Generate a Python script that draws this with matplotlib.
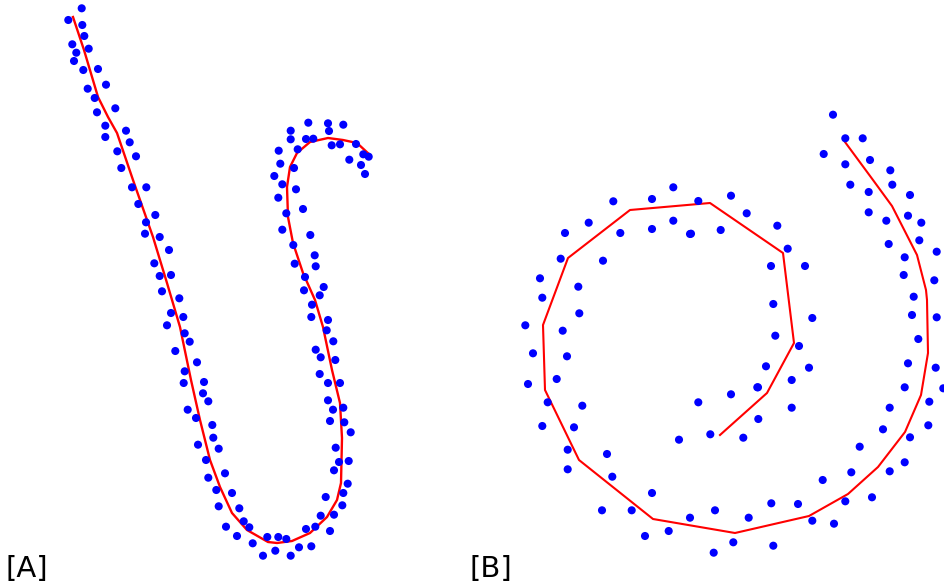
import numpy as np
import matplotlib
matplotlib.use('Agg')
import matplotlib.pyplot as plt

# panel A: noisy samples along an "S"-like stroke and the fitted curve
a_x = [81.7, 68.3, 82.3, 84.3, 72.3, 76.3, 88.7, 74, 83.3, 98, 106, 87.7, 94.7, 115.3, 97, 105.3,
       105.3, 126, 129.7, 117.3, 136, 121.3, 132, 146.3,
       138.3, 155.3, 146, 145, 159.7, 169, 154.3, 159.7, 171, 162, 179.3, 171, 183.3, 167, 184.7,
       189.7, 175.3, 197, 184.7,
       204, 183.7, 203, 208.3, 187.7, 196, 212.3, 213.3, 198, 218.7, 206, 225, 208.3, 216.3, 232,
       218.7, 239.3, 243.7, 226, 249.3, 237, 252.7, 267.3, 278.3, 286.3, 263, 275.3, 290.7, 299,
       311.3, 306, 315.3, 320.7, 330, 334, 325.7, 342.3, 343.3, 347.7, 334, 339, 348.7, 335.7,
       350.7, 344.3, 330, 333, 343.3, 328, 328, 340, 319.7,
       308.3, 328, 343.3, 290.7, 329, 290.7, 306, 313.3, 331.7, 340, 356, 297.7, 278.7, 349.3,
       363.3, 368.7, 361, 365, 280.3, 294, 274.3, 282.3, 296, 278.3, 303, 286.3, 282.3, 310.3,
       293.3, 314.7, 294.7, 315.7, 305, 323.7, 304, 319.7, 312, 328, 311.3, 326.7, 333.3, 315.7,
       320.7, 335.3]
a_y = [8.3, 20, 25, 36, 44.3, 52.7, 48.7, 61, 70, 69, 84.7, 88.7, 98, 108.3, 112.3, 125.7,
       137, 130.7, 142.3, 151.3, 156.3, 168, 187.3, 187.3,
       204, 215, 222.3, 233.7, 237, 250, 263.3, 276, 275, 291.3, 298.3, 313, 317, 325.3, 333.3,
       341.7, 351, 362.3, 371.3,
       382, 383, 393.3, 401.3, 409.7, 418, 425, 437.7, 444.7, 448.7, 460, 473.3, 477.7, 490, 493,
       506.3, 508.3, 521.3, 526.7, 527.3, 536, 543.3, 537, 537, 539, 555.7, 550.7, 555.7, 547.3,
       546.3, 529, 526.7, 515.7, 531, 514.7, 497, 505.3, 493, 483.7, 470.3, 462, 461, 447.7,
       432.3, 422.3, 421, 409.7, 407.7, 400.3, 383, 383, 374,
       122.7, 123.3, 124.7, 130.7, 131, 139.3, 139, 138.7, 145.3, 144.3, 144, 149.3, 150.7, 159.7,
       154.3, 156.7, 165, 174, 163.7, 168, 176, 184.3, 189.3, 197.7, 209, 213.3, 229.7, 235,
       245, 255.3, 263.7, 266.3, 277, 287, 290.3, 295.3, 304.7, 320, 317, 330.3, 341.3, 349.7,
       357.3, 360]
a_line_x = [73, 84, 98, 108, 117, 133, 153, 167, 180, 191, 200, 210, 220, 232, 247, 268, 277,
            292, 310, 327, 337, 341, 342, 340, 332, 323, 315, 303, 293, 288, 287, 290, 297, 310,
            328, 343, 357, 370]
a_line_y = [17, 50, 97, 117, 133, 180, 237, 283, 327, 380, 420, 460, 487, 513, 530, 542, 543,
            541, 533, 517, 500, 483, 438, 403, 370, 327, 300, 273, 243, 217, 187, 167, 153, 142,
            138, 140, 143, 155]

# panel B: noisy samples along a spiral and the fitted polyline
b_x = [673.3, 613.3, 652, 698.3, 588.7, 673.3, 565, 620.3, 652, 690, 560.7, 603, 540, 578.3,
       542.3, 579.3, 525.3, 562.7, 533, 567, 556.7,
       528, 547.7, 582.3, 542.3, 574, 567.7, 567.7, 607, 612.3, 652, 602, 631.7, 645, 668.7, 690,
       715, 748.7, 733.3, 713.7, 698.3, 731, 757.3, 679, 710.3, 743.3, 758.3,
       850.3, 868.7, 868.7, 886.3, 888.7, 731, 746.7, 720.7, 691, 777.3, 787.7, 771, 805, 773.3,
       812.3, 775.3, 799, 766, 809, 791.7, 758, 791.7,
       833, 845.3, 862.7, 823.7, 845.3, 870, 890.3, 892.3, 910, 908, 921.3, 919.3, 936.7, 904.7,
       903.7, 934.3, 913.7,
       912, 936.7, 918.3, 908, 935.7, 943.3, 904.7, 929.3, 889.7, 928.3, 883, 910, 859.7, 904.7,
       889.7, 851.3, 822.7, 872, 845.3, 771.3, 798, 812.3, 834, 773.3]
b_y = [187.3, 201.3, 199, 201, 222.7, 220.7, 233, 233, 229, 234, 258.7, 260.7, 278.3, 286.7,
       297.7, 313.3, 325.3, 330.7, 353.3, 356.3, 379,
       384, 402.3, 405.7, 426, 427.3, 449.7, 469.3, 454, 476.7, 493, 510.3, 510.3, 536, 531, 517.7,
       510.3, 517.7, 542.3, 552.7, 402.3, 394.3, 387.3, 439.7, 434.3, 437.7, 419,
       184.7, 192, 212.3, 220.7, 244, 195.7, 213.3, 230, 233.7, 225.7, 248.7, 266, 266, 304,
       318, 335.7, 346, 366.3, 367.7, 380, 387.3, 407.7,
       114.7, 138.3, 138.3, 154, 164.3, 160, 170.3, 184.7, 195, 215.7, 222.7, 240.3, 251.7, 257.3,
       275, 280.3, 296.7,
       315, 317.3, 339, 363.3, 367.7, 388.3, 387.3, 401.7, 407.7, 425.3, 429.3, 437.3, 446.7, 462.3,
       471.3, 472.3, 480, 497.3, 501.3, 503.3, 504, 520.7, 523.7, 545.7]
b_line_x = [845, 873, 892, 917, 926, 927, 928, 921, 905, 878, 848, 809, 735, 653, 579, 545, 543,
            568, 630, 710, 783, 794, 767, 720]
b_line_y = [142, 180, 206, 255, 290, 300, 353, 395, 432, 467, 494, 516, 533, 519, 460, 390, 325,
            258, 210, 203, 253, 343, 393, 435]

labels = ['[A]', '[B]']
label_x = [6, 470]

fig = plt.figure(figsize=(9.44, 5.88), dpi=100)
ax = fig.add_axes([0, 0, 1, 1])
ax.set_xlim(0, 944)
ax.set_ylim(588, 0)
ax.axis('off')

ax.plot(a_line_x, a_line_y, color='#ff0000', lw=1.7, zorder=1, solid_joinstyle='round')
ax.plot(b_line_x, b_line_y, color='#ff0000', lw=1.5, zorder=1)
ax.scatter(a_x, a_y, s=34, color='#0000ff', edgecolors='none', zorder=2)
ax.scatter(b_x, b_y, s=34, color='#0000ff', edgecolors='none', zorder=2)

for lab, lx in zip(labels, label_x):
    ax.text(lx, 583, lab, fontsize=21, color='black', ha='left', va='bottom')

fig.savefig('out.png', dpi=100)
